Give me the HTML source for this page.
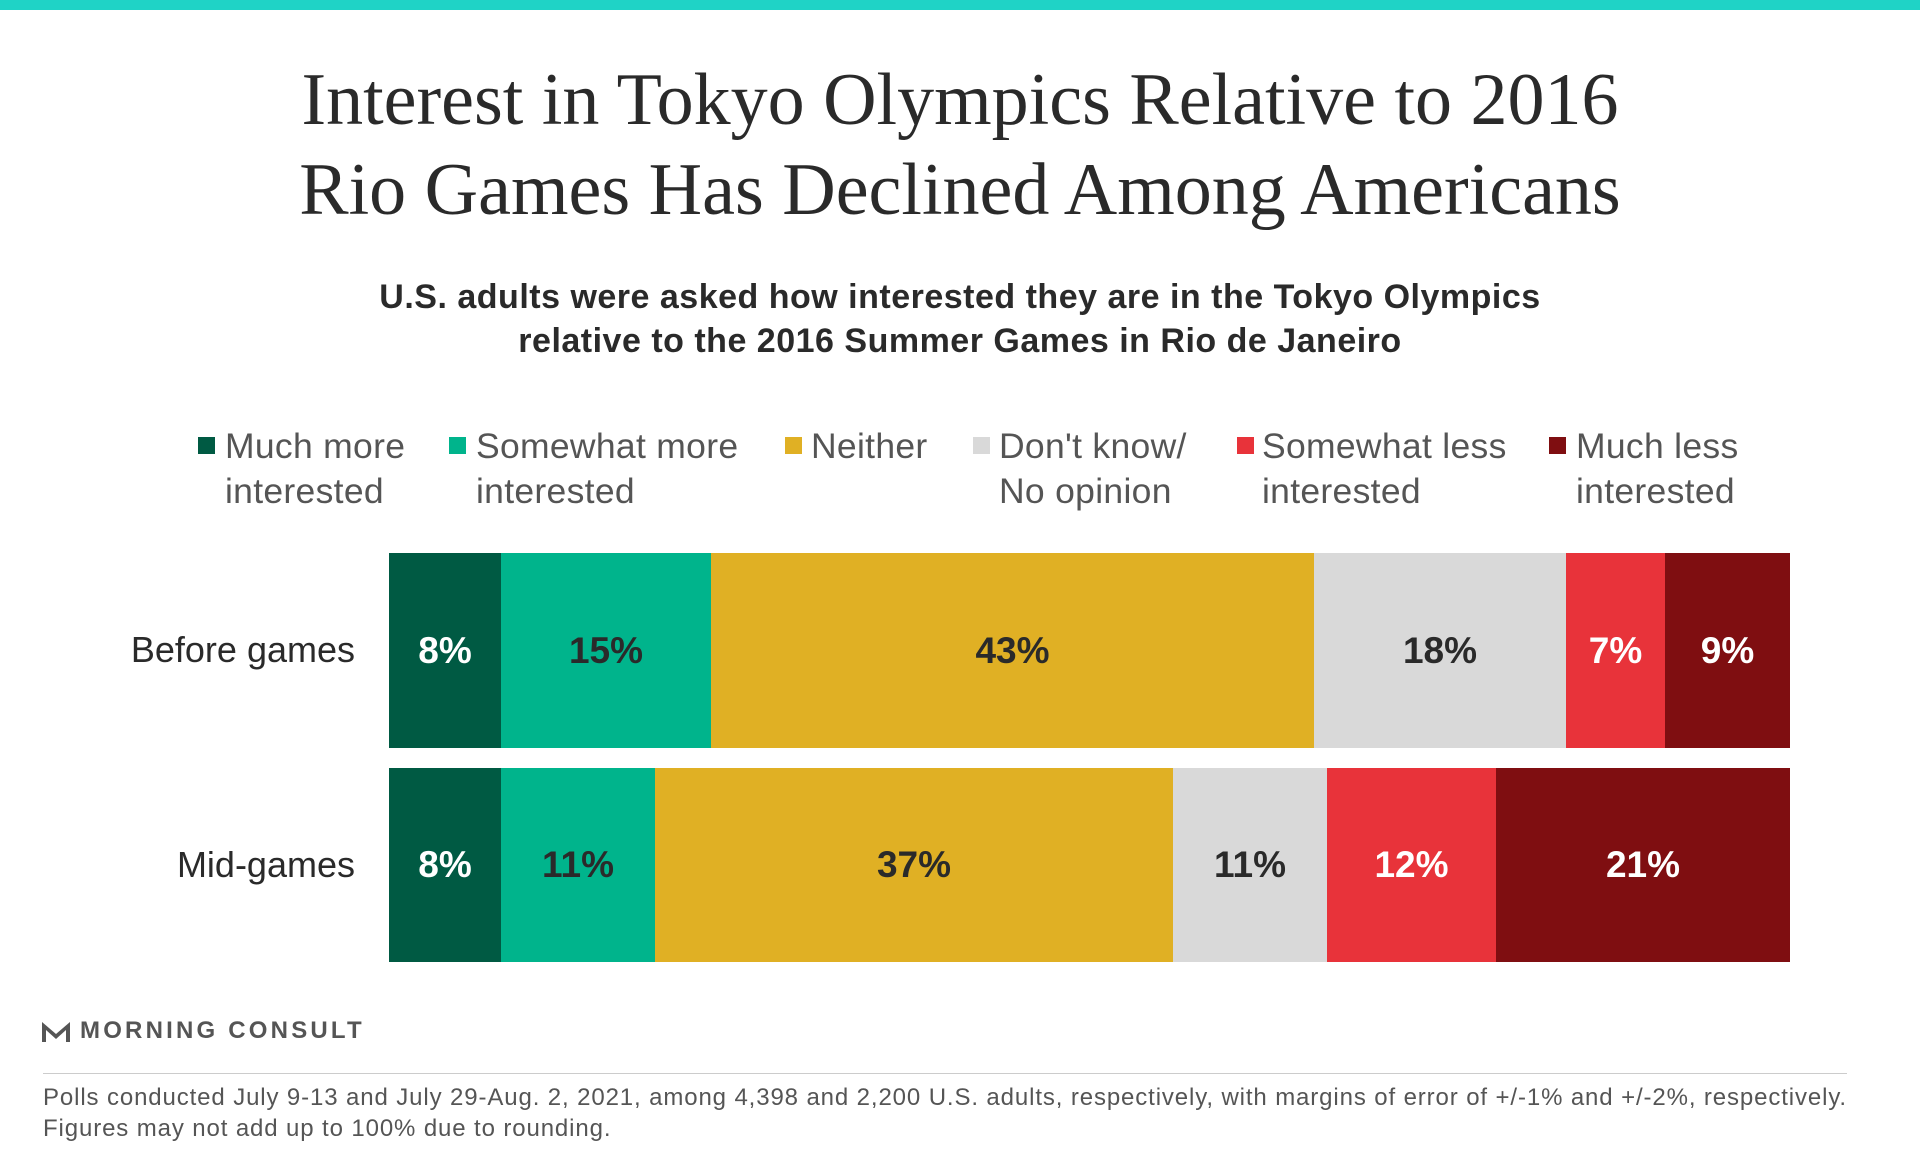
<!DOCTYPE html>
<html><head><meta charset="utf-8"><style>
body{margin:0;width:1920px;height:1152px;background:#fff;position:relative;overflow:hidden;font-family:"Liberation Sans",sans-serif;color:#333}
.a{position:absolute}
.title{left:0;width:1920px;text-align:center;font-family:"Liberation Serif",serif;font-size:74px;color:#2a2a2a;line-height:90px;top:55px}
.sub{left:0;width:1920px;text-align:center;font-weight:bold;font-size:34px;letter-spacing:0.5px;line-height:44px;top:275px;color:#2a2a2a}
.lg{font-size:35.5px;letter-spacing:0.3px;line-height:45px;color:#555;top:424px}
.sq{width:17px;height:17px;top:437px}
.seg{position:absolute;display:flex;align-items:center;justify-content:center;font-weight:bold;font-size:37px;color:#2a2a2a}
.w{color:#fff}
.rl{font-size:36px;color:#2a2a2a;text-align:right;width:355px;left:0}
</style></head><body>
<div class="a" style="left:0;top:0;width:1920px;height:10px;background:#1fd3c6"></div>
<div class="a title">Interest in Tokyo Olympics Relative to 2016<br>Rio Games Has Declined Among Americans</div>
<div class="a sub">U.S. adults were asked how interested they are in the Tokyo Olympics<br>relative to the 2016 Summer Games in Rio de Janeiro</div>

<div class="a sq" style="left:198px;background:#005a43"></div><div class="a lg" style="left:225px">Much more<br>interested</div>
<div class="a sq" style="left:449px;background:#00b48c"></div><div class="a lg" style="left:476px">Somewhat more<br>interested</div>
<div class="a sq" style="left:785px;background:#e0b024"></div><div class="a lg" style="left:811px">Neither</div>
<div class="a sq" style="left:973px;background:#d9d9d9"></div><div class="a lg" style="left:999px">Don't know/<br>No opinion</div>
<div class="a sq" style="left:1237px;background:#e8333a"></div><div class="a lg" style="left:1262px">Somewhat less<br>interested</div>
<div class="a sq" style="left:1549px;background:#7f0e11"></div><div class="a lg" style="left:1576px">Much less<br>interested</div>

<div class="a rl" style="top:629px">Before games</div>
<div class="a rl" style="top:844px">Mid-games</div>

<div class="seg w" style="left:389px;width:112px;top:553px;height:195px;background:#005a43">8%</div>
<div class="seg" style="left:501px;width:210px;top:553px;height:195px;background:#00b48c">15%</div>
<div class="seg" style="left:711px;width:603px;top:553px;height:195px;background:#e0b024">43%</div>
<div class="seg" style="left:1314px;width:252px;top:553px;height:195px;background:#d9d9d9">18%</div>
<div class="seg w" style="left:1566px;width:99px;top:553px;height:195px;background:#e8333a">7%</div>
<div class="seg w" style="left:1665px;width:125px;top:553px;height:195px;background:#7f0e11">9%</div>

<div class="seg w" style="left:389px;width:112px;top:768px;height:194px;background:#005a43">8%</div>
<div class="seg" style="left:501px;width:154px;top:768px;height:194px;background:#00b48c">11%</div>
<div class="seg" style="left:655px;width:518px;top:768px;height:194px;background:#e0b024">37%</div>
<div class="seg" style="left:1173px;width:154px;top:768px;height:194px;background:#d9d9d9">11%</div>
<div class="seg w" style="left:1327px;width:169px;top:768px;height:194px;background:#e8333a">12%</div>
<div class="seg w" style="left:1496px;width:294px;top:768px;height:194px;background:#7f0e11">21%</div>

<svg class="a" style="left:42px;top:1020px" width="28" height="24" viewBox="0 0 28 24"><path d="M0 2 L14 14 L28 2 L28 22 L24 22 L24 10 L14 19 L4 10 L4 22 L0 22Z" fill="#555"/></svg>
<div class="a" style="left:80px;top:1017px;font-size:24px;font-weight:bold;letter-spacing:3.2px;color:#555">MORNING CONSULT</div>
<div class="a" style="left:43px;top:1073px;width:1804px;height:1px;background:#ccc"></div>
<div class="a" style="left:43px;top:1082px;font-size:24px;letter-spacing:0.88px;line-height:31px;color:#555;white-space:nowrap">Polls conducted July 9-13 and July 29-Aug. 2, 2021, among 4,398 and 2,200 U.S. adults, respectively, with margins of error of +/-1% and +/-2%, respectively.<br>Figures may not add up to 100% due to rounding.</div>
</body></html>
